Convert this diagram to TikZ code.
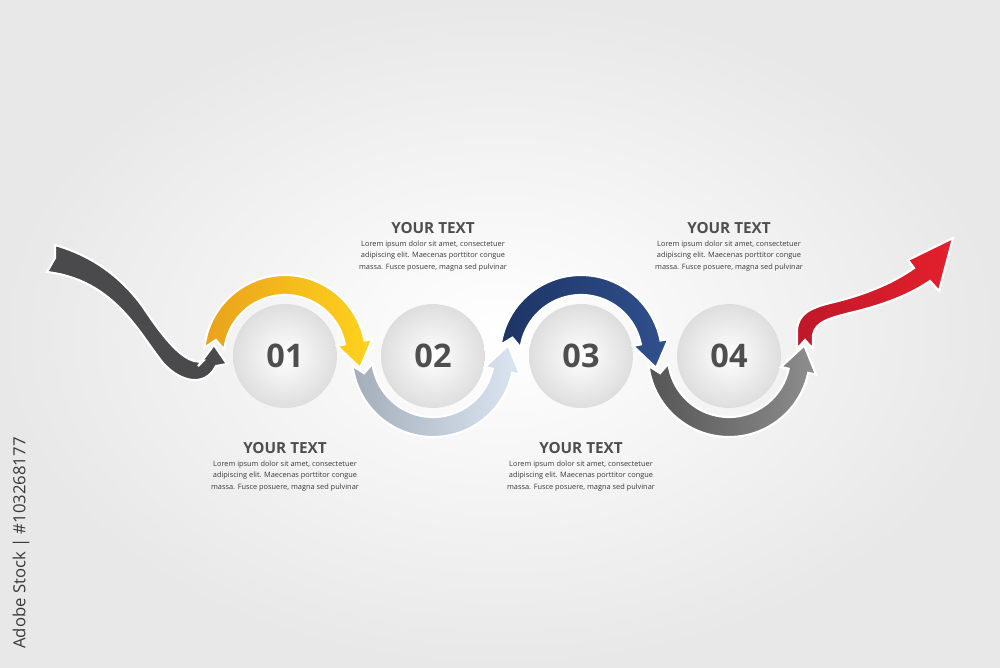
\documentclass[tikz,border=0pt]{standalone}
\usepackage{fontspec}
\setmainfont{Open Sans}
\usetikzlibrary{calc}
\definecolor{startgrey}{HTML}{4A4A4C}
\definecolor{yelL}{HTML}{E9A21C}
\definecolor{yelR}{HTML}{FFD31C}
\definecolor{paleL}{HTML}{A4ADBA}
\definecolor{paleR}{HTML}{DCE5F2}
\definecolor{navyL}{HTML}{1D3464}
\definecolor{navyR}{HTML}{30508E}
\definecolor{greyL}{HTML}{555555}
\definecolor{greyR}{HTML}{8E8E8E}
\definecolor{redL}{HTML}{BF1829}
\definecolor{redR}{HTML}{E5202C}
\definecolor{numgrey}{HTML}{4E4E4E}
\definecolor{textgrey}{HTML}{3A3A3A}

\begin{document}
\begin{tikzpicture}[x=0.02cm,y=-0.02cm]
\tikzstyle{disc}=[circle,minimum size=2.08cm,inner color=white,outer color=black!13,font=\fontsize{18.5}{20}\selectfont\bfseries,text=numgrey]
\tikzstyle{heading}=[font=\fontsize{8.7}{10}\selectfont\bfseries,text=numgrey]
\tikzstyle{blurb}=[font=\fontsize{4.2}{6.5}\selectfont,text=textgrey,align=center,inner sep=0pt]
\tikzstyle{band}=[draw=white,line width=1.2pt]
% background
\shade[inner color=white,outer color=black!9] (0,0) rectangle (1000,667);
\useasboundingbox (0,0) rectangle (1000,667);
% steps
\node[disc] (c1) at (285,356) {01};
\node[disc] (c2) at (433,356) {02};
\node[disc] (c3) at (581,356) {03};
\node[disc] (c4) at (729,356) {04};
\coordinate (tail) at (55,258);
\coordinate (goal) at (953,238);
% arrows, last one first
\shadedraw[band,left color=redL,right color=redR] (797,349) -- (797,330) .. controls (798,314) and (810,308) .. (830,303) .. controls (860,296) and (890,285) .. (914,268) -- (908,260) -- (goal) -- (939,291) -- (930,281) .. controls (905,298) and (875,307) .. (850,313) .. controls (830,318) and (815,322) .. (813,335) -- (813,349) -- (805,340) -- cycle;
\shadedraw[band,left color=greyL,right color=greyR] ($(c4)+(173:81)$) arc[start angle=173,end angle=12,radius=81] -- ($(c4)+(12:89)$) -- ($(c4)+(-8:76)$) -- ($(c4)+(12:53)$) -- ($(c4)+(12:61)$) arc[start angle=12,end angle=173,radius=61] -- ($(c4)+(166:71)$) -- cycle;
\shadedraw[band,left color=navyL,right color=navyR] ($(c3)+(188:81)$) arc[start angle=188,end angle=349,radius=81] -- ($(c3)+(349:89)$) -- ($(c3)+(9:76)$) -- ($(c3)+(349:53)$) -- ($(c3)+(349:61)$) arc[start angle=349,end angle=188,radius=61] -- ($(c3)+(195:71)$) -- cycle;
\shadedraw[band,left color=paleL,right color=paleR] ($(c2)+(173:81)$) arc[start angle=173,end angle=12,radius=81] -- ($(c2)+(12:89)$) -- ($(c2)+(-8:76)$) -- ($(c2)+(12:53)$) -- ($(c2)+(12:61)$) arc[start angle=12,end angle=173,radius=61] -- ($(c2)+(166:71)$) -- cycle;
\shadedraw[band,left color=yelL,right color=yelR] ($(c1)+(186:81)$) arc[start angle=186,end angle=349,radius=81] -- ($(c1)+(349:89)$) -- ($(c1)+(9:76)$) -- ($(c1)+(349:53)$) -- ($(c1)+(349:61)$) arc[start angle=349,end angle=186,radius=61] -- ($(c1)+(193:71)$) -- cycle;
\filldraw[band,fill=startgrey] (55,245) .. controls (90,255) and (120,275) .. (143,307) .. controls (163,337) and (185,366) .. (203,361) -- (198,366) -- (214,345) -- (227,364) -- (216,366) .. controls (205,388) and (180,382) .. (163,363) .. controls (140,335) and (115,280) .. (47,272) -- (tail) -- cycle;
% texts
\node[heading] (h2) at (433,228) {YOUR TEXT};
\node[blurb] (b2) at (433,256) {Lorem ipsum dolor sit amet, consectetuer\\adipiscing elit. Maecenas porttitor congue\\massa. Fusce posuere, magna sed pulvinar};
\node[heading] (h4) at (729,228) {YOUR TEXT};
\node[blurb] (b4) at (729,256) {Lorem ipsum dolor sit amet, consectetuer\\adipiscing elit. Maecenas porttitor congue\\massa. Fusce posuere, magna sed pulvinar};
\node[heading] (h1) at (285,448) {YOUR TEXT};
\node[blurb] (b1) at (285,476) {Lorem ipsum dolor sit amet, consectetuer\\adipiscing elit. Maecenas porttitor congue\\massa. Fusce posuere, magna sed pulvinar};
\node[heading] (h3) at (581,448) {YOUR TEXT};
\node[blurb] (b3) at (581,476) {Lorem ipsum dolor sit amet, consectetuer\\adipiscing elit. Maecenas porttitor congue\\massa. Fusce posuere, magna sed pulvinar};
\node[rotate=90,font=\fontsize{9.5}{10}\selectfont,text=textgrey] (mark) at (21,543) {Adobe Stock | \#103268177};
\end{tikzpicture}
\end{document}
